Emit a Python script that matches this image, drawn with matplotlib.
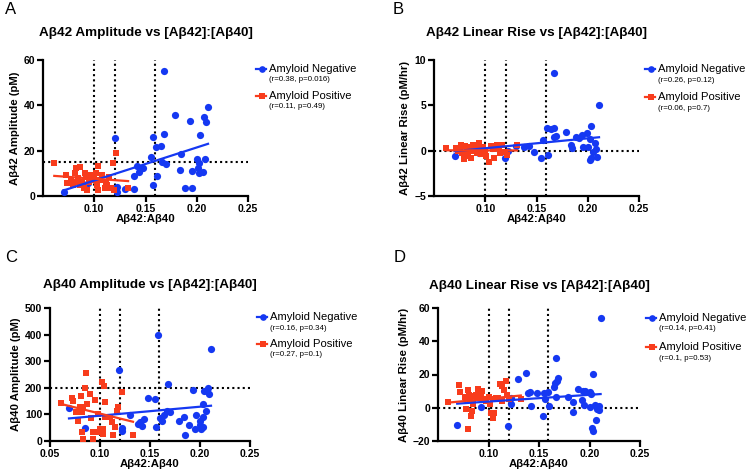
import numpy as np
import matplotlib
matplotlib.use("Agg")
import matplotlib.pyplot as plt
from matplotlib.lines import Line2D

plt.rcParams['font.family'] = ['Liberation Sans', 'DejaVu Sans']

BLUE = '#1538f2'
RED = '#f83c1c'

# --- datos ---
# panel A: amplitud Ab42
a_neg_x = [0.070, 0.094, 0.120, 0.122, 0.122, 0.130, 0.139, 0.139, 0.142, 0.144, 0.148, 0.155,
           0.157, 0.157, 0.160, 0.161, 0.165, 0.166, 0.168, 0.168, 0.170, 0.179, 0.184, 0.185,
           0.189, 0.193, 0.195, 0.195, 0.200, 0.201, 0.202, 0.202, 0.203, 0.206, 0.207, 0.208,
           0.209, 0.211]
a_neg_y = [1.6, 5.9, 25.4, 4.1, 1.6, 2.9, 3.2, 9.0, 13.2, 10.7, 12.5, 17.3,
           4.7, 26.2, 21.6, 8.8, 21.9, 15.1, 27.5, 55.3, 14.0, 35.9, 11.5, 18.5,
           3.4, 33.2, 10.9, 3.4, 16.5, 12.2, 10.0, 14.4, 27.0, 10.6, 35.0, 16.5,
           32.8, 39.4]
a_pos_x = [0.061, 0.072, 0.073, 0.077, 0.079, 0.081, 0.082, 0.084, 0.086, 0.086, 0.088, 0.090,
           0.092, 0.093, 0.094, 0.095, 0.097, 0.098, 0.100, 0.102, 0.103, 0.104, 0.104, 0.106,
           0.108, 0.110, 0.111, 0.112, 0.114, 0.116, 0.118, 0.119, 0.121, 0.133, 0.091, 0.083]
a_pos_y = [14.7, 9.3, 5.9, 7.1, 4.9, 10.0, 12.2, 7.8, 12.9, 4.9, 6.3, 3.4,
           8.5, 2.6, 8.5, 6.3, 9.3, 7.1, 7.4, 10.3, 4.9, 13.2, 2.6, 7.1,
           9.3, 3.4, 5.6, 4.9, 8.5, 3.4, 14.7, 2.6, 19.1, 3.4, 10.0, 6.3]

# panel B: subida lineal Ab42
b_neg_x = [0.070, 0.094, 0.119, 0.122, 0.130, 0.138, 0.143, 0.148, 0.154, 0.156, 0.160, 0.161,
           0.164, 0.167, 0.167, 0.167, 0.169, 0.179, 0.184, 0.189, 0.191, 0.194, 0.195, 0.199,
           0.200, 0.202, 0.203, 0.203, 0.202, 0.207, 0.208, 0.209, 0.211, 0.205, 0.185]
b_neg_y = [-0.55, -0.22, -0.85, 0.0, 0.55, 0.44, 0.51, -0.18, -0.85, 1.18, 2.54, -0.48,
           2.35, 2.5, 8.53, 1.47, 1.62, 2.1, 0.59, 1.54, 1.43, 1.73, 0.44, 1.99,
           0.44, -1.03, -0.77, 2.76, 1.25, 0.81, 0.22, -0.66, 5.04, -0.1, 0.26]
b_pos_x = [0.062, 0.071, 0.073, 0.075, 0.076, 0.077, 0.079, 0.080, 0.082, 0.083, 0.085, 0.086,
           0.086, 0.088, 0.090, 0.092, 0.093, 0.094, 0.095, 0.096, 0.098, 0.100, 0.101, 0.104,
           0.106, 0.108, 0.109, 0.111, 0.113, 0.114, 0.116, 0.119, 0.121, 0.131]
b_pos_y = [0.26, 0.26, 0.0, 0.26, 0.62, -0.29, -0.96, 0.51, 0.0, -0.59, 0.44, 0.0,
           -0.85, 0.62, 0.26, -0.22, 0.51, 0.8, 0.07, -0.37, 0.44, 0.0, -0.59, -1.21,
           0.51, 0.15, -0.85, 0.62, 0.26, -0.22, 0.62, -0.11, -0.48, 0.62]

# panel C: amplitud Ab40
c_neg_x = [0.069, 0.085, 0.119, 0.122, 0.122, 0.130, 0.138, 0.140, 0.142, 0.144, 0.148, 0.155,
           0.156, 0.158, 0.160, 0.162, 0.164, 0.167, 0.168, 0.170, 0.179, 0.184, 0.185, 0.189,
           0.193, 0.195, 0.196, 0.200, 0.200, 0.201, 0.203, 0.203, 0.204, 0.206, 0.207, 0.208,
           0.209, 0.211, 0.203]
c_neg_y = [124, 48, 266, 48, 37, 96, 65, 73, 58, 83, 160, 158,
           52, 400, 86, 77, 99, 111, 214, 108, 77, 90, 21, 61,
           192, 44, 98, 77, 61, 46, 139, 92, 189, 111, 189, 201,
           175, 345, 52]
c_pos_x = [0.061, 0.072, 0.073, 0.078, 0.081, 0.080, 0.082, 0.082, 0.083, 0.085, 0.086, 0.087,
           0.090, 0.091, 0.093, 0.093, 0.095, 0.097, 0.098, 0.100, 0.102, 0.103, 0.104, 0.105,
           0.105, 0.103, 0.110, 0.112, 0.113, 0.115, 0.117, 0.118, 0.122, 0.133, 0.083, 0.076]
c_pos_y = [142, 160, 152, 77, 170, 127, 108, 34, 9, 201, 255, 139,
           177, 86, 9, 34, 154, 34, 102, 46, 223, 46, 208, 146,
           90, 27, 90, 71, 21, 52, 114, 127, 183, 21, 127, 108]

# panel D: subida lineal Ab40
d_neg_x = [0.069, 0.093, 0.119, 0.122, 0.122, 0.129, 0.137, 0.139, 0.141, 0.142, 0.148, 0.154,
           0.155, 0.156, 0.159, 0.160, 0.165, 0.166, 0.167, 0.168, 0.169, 0.167, 0.179, 0.184,
           0.184, 0.189, 0.194, 0.193, 0.195, 0.196, 0.200, 0.200, 0.201, 0.203, 0.202, 0.203,
           0.205, 0.206, 0.207, 0.209, 0.209, 0.211]
d_neg_y = [-10.1, 0.2, -11.1, 2.2, 5.8, 17.3, 21.2, 8.7, 9.3, 0.8, 8.7, -5.2,
           8.7, 5.4, 9.7, 0.8, 12.7, 14.7, 30.0, 16.3, 17.7, 6.2, 6.7, 3.4,
           -2.6, 11.3, 10.1, 4.4, 1.4, 10.1, 9.7, 0.2, 8.1, 20.6, -12.1, -14.1,
           1.8, -7.1, -0.6, 1.2, -1.2, 53.8]
d_pos_x = [0.060, 0.071, 0.072, 0.077, 0.078, 0.080, 0.081, 0.082, 0.084, 0.083, 0.080, 0.085,
           0.086, 0.088, 0.090, 0.092, 0.093, 0.094, 0.097, 0.098, 0.100, 0.101, 0.102, 0.104,
           0.105, 0.104, 0.107, 0.109, 0.111, 0.113, 0.115, 0.117, 0.113, 0.118, 0.120, 0.132]
d_pos_y = [3.6, 13.9, 9.5, 6.3, -1.0, 10.9, 7.9, 5.0, -2.0, -5.0, -12.9, 2.0,
           6.9, 7.9, 11.5, 6.0, 8.9, 10.3, 5.0, 4.0, 6.3, 2.0, -3.0, -6.3,
           -3.0, 5.0, 5.6, 5.6, 14.3, 12.9, 10.9, 16.3, 4.0, 7.9, 5.0, 5.0]

titles = ['A\u03b242 Amplitude vs [A\u03b242]:[A\u03b240]',
          'A\u03b242 Linear Rise vs [A\u03b242]:[A\u03b240]',
          'A\u03b240 Amplitude vs [A\u03b242]:[A\u03b240]',
          'A\u03b240 Linear Rise vs [A\u03b242]:[A\u03b240]']
ylabels = ['A\u03b242 Amplitude (pM)', 'A\u03b242 Linear Rise (pM/hr)',
           'A\u03b240 Amplitude (pM)', 'A\u03b240 Linear Rise (pM/hr)']
letras = ['A', 'B', 'C', 'D']
stats_neg = ['(r=0.38, p=0.016)', '(r=0.26, p=0.12)', '(r=0.16, p=0.34)', '(r=0.14, p=0.41)']
stats_pos = ['(r=0.11, p=0.49)', '(r=0.06, p=0.7)', '(r=0.27, p=0.1)', '(r=0.1, p=0.53)']
yticks = [[0, 20, 40, 60], [-5, 0, 5, 10], [0, 100, 200, 300, 400, 500], [-20, 0, 20, 40, 60]]
xticks = [[0.10, 0.15, 0.20, 0.25], [0.10, 0.15, 0.20, 0.25],
          [0.05, 0.10, 0.15, 0.20, 0.25], [0.10, 0.15, 0.20, 0.25]]
hlines = [15, 0, 200, 0]
vlines = [0.10, 0.12, 0.159]

datos = [(a_neg_x, a_neg_y, a_pos_x, a_pos_y), (b_neg_x, b_neg_y, b_pos_x, b_pos_y),
         (c_neg_x, c_neg_y, c_pos_x, c_pos_y), (d_neg_x, d_neg_y, d_pos_x, d_pos_y)]

W, H = 750, 474
# posiciones en pixeles: ejes (izq, arriba, der, abajo), titulo, letra, leyenda
ejes_px = [(43, 60, 248, 196), (434, 60, 639, 196), (50, 308, 250, 441), (438, 308, 640, 441)]
titulo_px = [(145.5, 33), (536.5, 33), (150, 285), (539, 286)]
letra_px = [(5, 10), (393, 10), (5, 257), (394, 257)]
leyenda_px = [(256, 69, 80, 96, 107), (645, 69, 81, 97, 109),
              (257, 317, 328, 344, 355), (646, 318, 329, 347, 359)]


def fx(x):
    return x / W


def fy(y):
    return 1 - y / H


fig = plt.figure(figsize=(7.5, 4.74), dpi=100)

for i in range(4):
    l, t, r, b = ejes_px[i]
    ax = fig.add_axes([fx(l), fy(b), (r - l) / W, (b - t) / H])
    nx, ny, px, py = datos[i]

    # lineas de referencia punteadas
    for v in vlines:
        ax.axvline(v, color='black', ls=(0, (1, 1.5)), lw=1.5, zorder=1)
    ax.axhline(hlines[i], color='black', ls=(0, (1, 1.5)), lw=1.5, zorder=1)

    ax.plot(nx, ny, 'o', color=BLUE, ms=5.2, mew=0, zorder=3, clip_on=False)
    ax.plot(px, py, 's', color=RED, ms=5.0, mew=0, zorder=4, clip_on=False)

    # rectas de regresion
    for xs, ys, col in [(nx, ny, BLUE), (px, py, RED)]:
        m, c = np.polyfit(xs, ys, 1)
        xr = np.array([min(xs), max(xs)])
        ax.plot(xr, m * xr + c, color=col, lw=1.6, zorder=5)

    ax.set_xlim(0.05, 0.25)
    ax.set_ylim(yticks[i][0], yticks[i][-1])
    ax.set_xticks(xticks[i])
    ax.set_xticklabels(['%.2f' % v for v in xticks[i]])
    ax.set_yticks(yticks[i])
    for s in ['top', 'right']:
        ax.spines[s].set_visible(False)
    for s in ['left', 'bottom']:
        ax.spines[s].set_linewidth(1.6)
    ax.tick_params(width=1.6, length=4, labelsize=7.5, pad=1.5)
    for lab in ax.get_xticklabels() + ax.get_yticklabels():
        lab.set_fontweight('bold')
    ax.set_xlabel('A\u03b242:A\u03b240', fontsize=8.2, fontweight='bold', labelpad=0)
    ax.set_ylabel(ylabels[i], fontsize=8.2, fontweight='bold', labelpad=3)

    tx, ty = titulo_px[i]
    fig.text(fx(tx), fy(ty), titles[i], ha='center', va='center', fontsize=9.7, fontweight='bold')
    lx, ly = letra_px[i]
    fig.text(fx(lx), fy(ly), letras[i], ha='left', va='center', fontsize=12)

    # leyenda a mano
    x0, y1, y1s, y2, y2s = leyenda_px[i]
    for yy, col, mk, lab, st, yst in [(y1, BLUE, 'o', 'Amyloid Negative', stats_neg[i], y1s),
                                      (y2, RED, 's', 'Amyloid Positive', stats_pos[i], y2s)]:
        fig.add_artist(Line2D([fx(x0), fx(x0 + 10)], [fy(yy), fy(yy)], color=col, lw=1.6,
                              transform=fig.transFigure))
        fig.add_artist(Line2D([fx(x0 + 6)], [fy(yy)], marker=mk, color=col, ms=4.8, mew=0,
                              transform=fig.transFigure))
        fig.text(fx(x0 + 13), fy(yy), lab, ha='left', va='center', fontsize=8.1)
        fig.text(fx(x0 + 13), fy(yst), st, ha='left', va='center', fontsize=5.7)

fig.savefig('out.png', dpi=100)
